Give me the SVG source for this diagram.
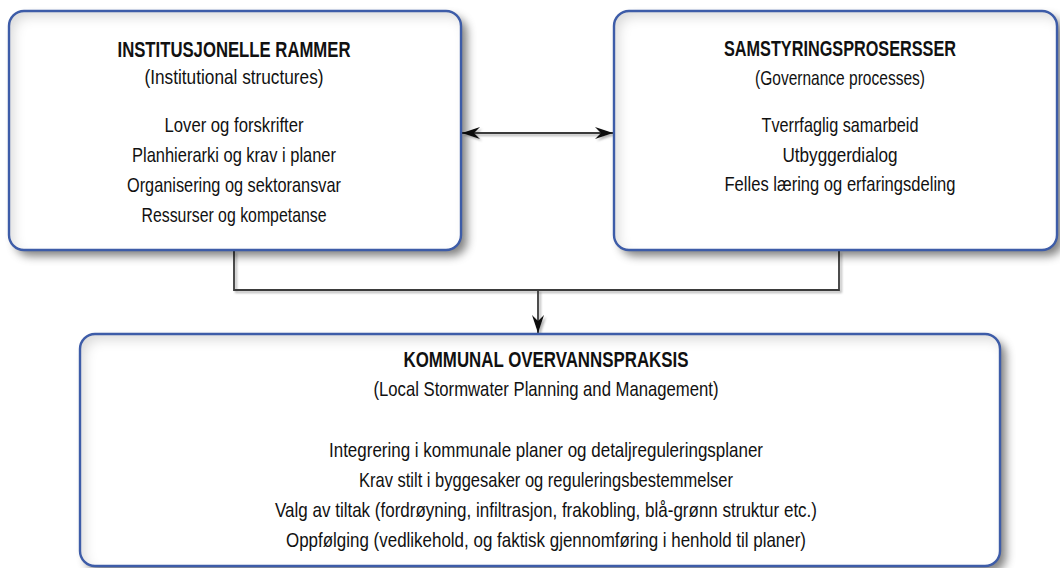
<svg xmlns="http://www.w3.org/2000/svg" width="1060" height="568" viewBox="0 0 1060 568">
  <defs>
    <filter id="boxfx" x="-10%" y="-15%" width="125%" height="135%">
      <feGaussianBlur in="SourceAlpha" stdDeviation="5" result="b"/>
      <feOffset in="b" dx="6" dy="6" result="o"/>
      <feFlood flood-color="#000" flood-opacity="0.5"/>
      <feComposite in2="o" operator="in" result="ds"/>
      <feComponentTransfer in="SourceAlpha" result="inv">
        <feFuncA type="table" tableValues="1 0"/>
      </feComponentTransfer>
      <feGaussianBlur in="inv" stdDeviation="6" result="ib"/>
      <feOffset in="ib" dx="5" dy="6" result="io"/>
      <feFlood flood-color="#000" flood-opacity="0.3"/>
      <feComposite in2="io" operator="in" result="is1"/>
      <feComposite in="is1" in2="SourceAlpha" operator="in" result="is"/>
      <feMerge>
        <feMergeNode in="ds"/>
        <feMergeNode in="SourceGraphic"/>
        <feMergeNode in="is"/>
      </feMerge>
    </filter>
    <filter id="lnfx" filterUnits="userSpaceOnUse" x="0" y="0" width="1060" height="568">
      <feGaussianBlur in="SourceAlpha" stdDeviation="1.2" result="b"/>
      <feOffset in="b" dx="1.5" dy="2" result="o"/>
      <feFlood flood-color="#000" flood-opacity="0.3"/>
      <feComposite in2="o" operator="in" result="ds"/>
      <feMerge><feMergeNode in="ds"/><feMergeNode in="SourceGraphic"/></feMerge>
    </filter>
    <marker id="arr" markerUnits="userSpaceOnUse" markerWidth="18" markerHeight="12" viewBox="0 0 18 12" refX="18" refY="6" orient="auto-start-reverse">
      <path d="M0,0 L18,6 L0,12 L6,6 z" fill="#111"/>
    </marker>
  </defs>
  <style>
    .fill { fill: #ffffff; filter: url(#boxfx); }
    .edge { fill: none; stroke: #3d5ca8; stroke-width: 2.4; }
    text { font-family: "Liberation Sans Narrow", "Liberation Sans", Arial, sans-serif; fill: #111; text-anchor: middle; }
    .t { font-size: 22px; font-weight: bold; }
    .b { font-size: 21px; }
    .conn { fill: none; stroke: #3a3a3a; stroke-width: 1.8; filter: url(#lnfx); }
  </style>
  <rect width="1060" height="568" fill="#ffffff"/>

  <g id="connectors">
    <path class="conn" d="M234 251 V290 H839 V251"/>
    <path class="conn" d="M538 290 V333" marker-end="url(#arr)"/>
    <path class="conn" d="M462 133 H613" marker-start="url(#arr)" marker-end="url(#arr)"/>
  </g>

  <g id="institusjonelle">
    <rect class="fill" x="9" y="11" width="452" height="239" rx="15"/>
    <rect class="edge" x="9" y="11" width="452" height="239" rx="15"/>
    <text class="t" x="234" y="57" textLength="233" lengthAdjust="spacingAndGlyphs">INSTITUSJONELLE RAMMER</text>
    <text class="b" x="234" y="84" textLength="179" lengthAdjust="spacingAndGlyphs">(Institutional structures)</text>
    <text class="b" x="234" y="132" textLength="139" lengthAdjust="spacingAndGlyphs">Lover og forskrifter</text>
    <text class="b" x="234" y="162" textLength="204" lengthAdjust="spacingAndGlyphs">Planhierarki og krav i planer</text>
    <text class="b" x="234" y="192" textLength="214" lengthAdjust="spacingAndGlyphs">Organisering og sektoransvar</text>
    <text class="b" x="234" y="222" textLength="185" lengthAdjust="spacingAndGlyphs">Ressurser og kompetanse</text>
  </g>

  <g id="samstyring">
    <rect class="fill" x="614" y="11" width="443" height="239" rx="15"/>
    <rect class="edge" x="614" y="11" width="443" height="239" rx="15"/>
    <text class="t" x="840" y="56" textLength="232" lengthAdjust="spacingAndGlyphs">SAMSTYRINGSPROSERSSER</text>
    <text class="b" x="840" y="85" textLength="170" lengthAdjust="spacingAndGlyphs">(Governance processes)</text>
    <text class="b" x="840" y="132" textLength="157" lengthAdjust="spacingAndGlyphs">Tverrfaglig samarbeid</text>
    <text class="b" x="840" y="162" textLength="115" lengthAdjust="spacingAndGlyphs">Utbyggerdialog</text>
    <text class="b" x="840" y="191" textLength="231" lengthAdjust="spacingAndGlyphs">Felles læring og erfaringsdeling</text>
  </g>

  <g id="kommunal">
    <rect class="fill" x="80" y="334" width="920" height="232" rx="15"/>
    <rect class="edge" x="80" y="334" width="920" height="232" rx="15"/>
    <text class="t" x="546" y="367" textLength="285" lengthAdjust="spacingAndGlyphs">KOMMUNAL OVERVANNSPRAKSIS</text>
    <text class="b" x="546" y="396" textLength="345" lengthAdjust="spacingAndGlyphs">(Local Stormwater Planning and Management)</text>
    <text class="b" x="546" y="457" textLength="434" lengthAdjust="spacingAndGlyphs">Integrering i kommunale planer og detaljreguleringsplaner</text>
    <text class="b" x="546" y="487" textLength="374" lengthAdjust="spacingAndGlyphs">Krav stilt i byggesaker og reguleringsbestemmelser</text>
    <text class="b" x="546" y="517" textLength="542" lengthAdjust="spacingAndGlyphs">Valg av tiltak (fordrøyning, infiltrasjon, frakobling, blå-grønn struktur etc.)</text>
    <text class="b" x="546" y="547" textLength="520" lengthAdjust="spacingAndGlyphs">Oppfølging (vedlikehold, og faktisk gjennomføring i henhold til planer)</text>
  </g>
</svg>
